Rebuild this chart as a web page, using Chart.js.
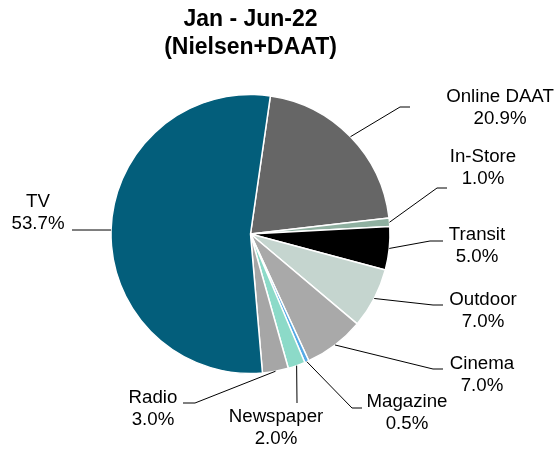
<!DOCTYPE html>
<html>
<head>
<meta charset="utf-8">
<title>Jan - Jun-22 (Nielsen+DAAT)</title>
<script src="https://cdn.jsdelivr.net/npm/chart.js@4.4.0/dist/chart.umd.min.js"></script>
<style>
    html, body { margin: 0; padding: 0; background: #fff; }
    #wrap { width: 559px; height: 450px; }
</style>
</head>
<body>
<div id="wrap"><canvas id="shareChart" width="559" height="450"></canvas></div>
<script>
// Chart data (clockwise from just right of 12 o'clock)
const categories = ['Online DAAT', 'In-Store', 'Transit', 'Outdoor', 'Cinema', 'Magazine', 'Newspaper', 'Radio', 'TV'];
const shares = [20.9, 1.0, 5.0, 7.0, 7.0, 0.5, 2.0, 3.0, 53.7];
const titleLines = ['Jan - Jun-22', '(Nielsen+DAAT)'];

const sliceColors = ['#666666', '#8fb0a0', '#000000', '#c5d5cf', '#a9a9a9', '#56aae6', '#8cdac8', '#a6a6a6', '#035e7b'];

// Where each data label sits (text centre, first line) and where its leader line ends
const labelLayout = [
    { x: 500, y: 97,  end: [410, 107], bend: 10 },
    { x: 483, y: 157, end: [447, 188], bend: 10 },
    { x: 477, y: 235, end: [443, 241], bend: 13 },
    { x: 483, y: 300, end: [443, 305], bend: 10 },
    { x: 482, y: 364, end: [443, 369], bend: 10 },
    { x: 407, y: 402, end: [362, 408], bend: 10 },
    { x: 276, y: 417, end: [297, 403], bend: 0 },
    { x: 153, y: 398, end: [183, 403], bend: -12 },
    { x: 38,  y: 202, end: [72, 230],  bend: 0 }
];

const labelFont = '18.7px "Liberation Sans", Arial, sans-serif';
const lineGap = 21.5;

// Draw leader lines and two-line labels outside the pie
const outsideLabels = {
    id: 'outsideLabels',
    afterDatasetsDraw(chart) {
        const ctx = chart.ctx;
        const arcs = chart.getDatasetMeta(0).data;
        ctx.save();
        ctx.strokeStyle = '#000';
        ctx.lineWidth = 1;
        arcs.forEach((arc, i) => {
            const p = arc.getProps(['x', 'y', 'startAngle', 'endAngle', 'outerRadius'], true);
            const mid = (p.startAngle + p.endAngle) / 2;
            const sx = p.x + Math.cos(mid) * p.outerRadius;
            const sy = p.y + Math.sin(mid) * p.outerRadius;
            const lay = labelLayout[i];
            const ex = lay.end[0], ey = lay.end[1];
            ctx.beginPath();
            ctx.moveTo(sx, sy);
            ctx.lineTo(ex - lay.bend, ey);
            ctx.lineTo(ex, ey);
            ctx.stroke();

            ctx.fillStyle = '#000';
            ctx.font = labelFont;
            ctx.textAlign = 'center';
            ctx.textBaseline = 'middle';
            ctx.fillText(categories[i], lay.x, lay.y);
            ctx.fillText(shares[i].toFixed(1) + '%', lay.x, lay.y + lineGap);
        });
        ctx.restore();
    }
};

const ctx = document.getElementById('shareChart').getContext('2d');
const shareChart = new Chart(ctx, {
    type: 'pie',
    data: {
        labels: categories,
        datasets: [{
            data: shares,
            backgroundColor: sliceColors,
            borderColor: '#ffffff',
            borderWidth: 1.5
        }]
    },
    options: {
        responsive: false,
        animation: false,
        events: [],
        rotation: 8.2,
        radius: 139.5,
        layout: {
            padding: { left: 111, right: 169, top: 0, bottom: 76.5 }
        },
        plugins: {
            legend: { display: false },
            tooltip: { enabled: false },
            title: {
                display: true,
                text: titleLines,
                color: '#000',
                font: { family: '"Liberation Sans", Arial, sans-serif', size: 23, weight: 'bold', lineHeight: 1.2 },
                padding: { top: 6, bottom: 33.3 }
            }
        }
    },
    plugins: [outsideLabels]
});
</script>
</body>
</html>
